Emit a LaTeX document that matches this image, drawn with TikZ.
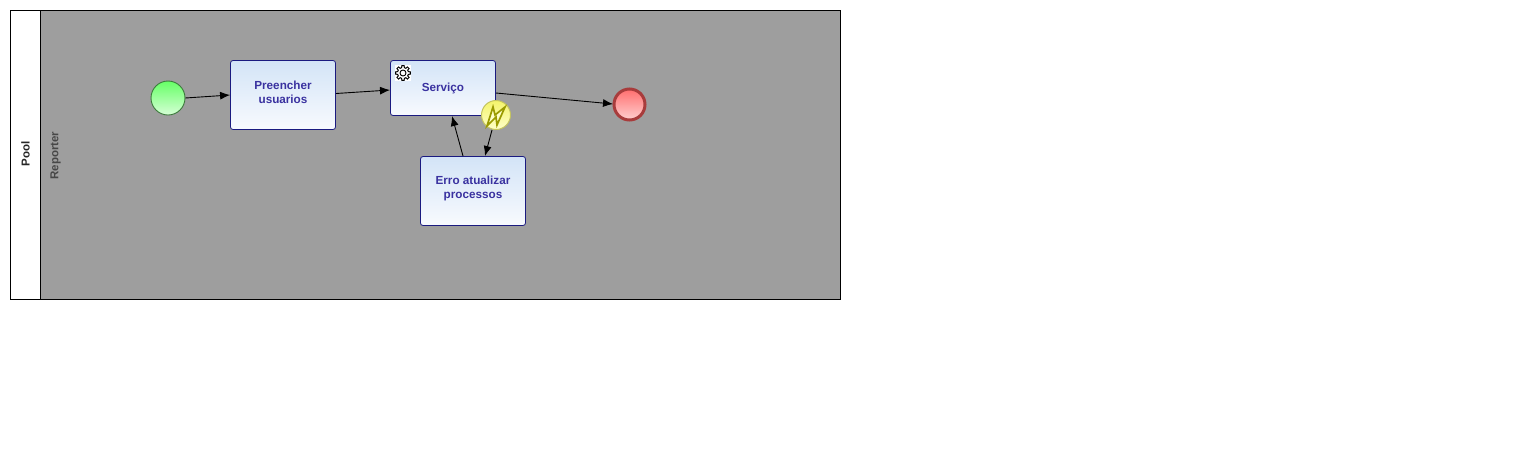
\documentclass[tikz,border=0pt]{standalone}
\usepackage{fontspec}
\setmainfont{Liberation Sans}
\usetikzlibrary{arrows.meta}
\definecolor{lanefill}{HTML}{9E9E9E}
\definecolor{taskedge}{HTML}{1A1A80}
\definecolor{tasktext}{HTML}{3A32A0}
\definecolor{tasktop}{HTML}{D3E4F7}
\definecolor{taskbot}{HTML}{F8FAFE}
\definecolor{starttop}{HTML}{66FF66}
\definecolor{startbot}{HTML}{D6FFD6}
\definecolor{startedge}{HTML}{3C7A3C}
\definecolor{stoptop}{HTML}{FF6E6E}
\definecolor{stopbot}{HTML}{FFD0D0}
\definecolor{stopedge}{HTML}{A83C3C}
\definecolor{boundtop}{HTML}{F4F46A}
\definecolor{boundbot}{HTML}{FFFFC8}
\definecolor{boundedge}{HTML}{C4C460}
\definecolor{bolt}{HTML}{9A9A00}
\tikzset{
  x=1pt,y=-1pt,
  flow/.style={draw=black,line width=0.9pt,-{Latex[length=10pt,width=8pt]}},
  taskbox/.style={draw=taskedge,line width=0.8pt,rounded corners=2.5pt,inner sep=0pt,align=center,
    top color=tasktop,bottom color=taskbot,text=tasktext,
    font=\fontsize{11.7}{14}\selectfont\bfseries},
  startev/.style={circle,draw=startedge,line width=0.9pt,minimum size=34pt,inner sep=0pt,top color=starttop,bottom color=startbot},
  endev/.style={circle,draw=stopedge,line width=3pt,minimum size=31pt,inner sep=0pt,top color=stoptop,bottom color=stopbot},
  boundev/.style={circle,draw=boundedge,line width=1pt,minimum size=29pt,inner sep=0pt,top color=boundtop,bottom color=boundbot},
  hdr/.style={rotate=90,font=\fontsize{11.5}{13}\selectfont\bfseries,inner sep=0pt}
}
\begin{document}
\begin{tikzpicture}
\useasboundingbox (0,0) rectangle (1513,472);
\fill[white] (0,0) rectangle (1513,472);
\fill[lanefill] (40.5,10.5) rectangle (840.5,299.5);
\draw[black,line width=0.9pt] (10.5,10.5) rectangle (840.5,299.5);
\draw[black,line width=0.9pt] (40.5,10.5) -- (40.5,299.5);
\node[hdr,text=black!85] (pool) at (25.5,154) {Pool};
\node[hdr,text=black!72] (lane) at (55.5,155.5) {Reporter};
\node[startev] (start) at (168,98) {};
\node[taskbox,minimum width=105pt,minimum height=69pt,text depth=0pt] (t1) at (283,95) {\rule{0pt}{2pt}\\[-12.5pt]Preencher\\usuarios};
\node[taskbox,minimum width=105pt,minimum height=55pt] (t2) at (443,88) {\raisebox{-1.5pt}{Serviço}};
\node[taskbox,minimum width=105pt,minimum height=69pt] (t3) at (473,191) {\rule{0pt}{2pt}\\[-12.5pt]Erro atualizar\\processos};
\node[endev] (stop) at (629.5,104.5) {};
\node[boundev] (bd) at (496,115) {};
\coordinate (t1out) at (336,93.5);
\coordinate (t2in) at (390,90);
\coordinate (t2out) at (496,93);
\coordinate (stopin) at (613,104);
\coordinate (t3out) at (463,156);
\coordinate (t2back) at (452,116);
\coordinate (bdout) at (492,130);
\coordinate (t3in) at (485,156);
\draw[flow] (start.east) -- (t1.west);
\draw[flow] (t1out) -- (t2in);
\draw[flow] (t2out) -- (stopin);
\draw[flow] (t3out) -- (t2back);
\draw[flow] (bdout) -- (t3in);
% gear marker
\fill[white] (395,65) rectangle (411,81);
\begin{scope}[shift={(403,73)}]
\draw[black,line width=1pt,fill=white] (-9:7.5) \foreach \a in {0,45,...,315}{ -- (\a-9:7.5) -- (\a+9:7.5) -- (\a+14:5.5) -- (\a+31:5.5)} -- cycle;
\draw[black,line width=0.9pt] (0,0) circle[radius=3];
\end{scope}
% lightning marker
\draw[draw=bolt,line width=1.7pt,line join=miter,fill=boundbot] (487,126) -- (493,107) -- (495,115) -- (505,107) -- (497,125) -- (496,117) -- cycle;
\end{tikzpicture}
\end{document}
